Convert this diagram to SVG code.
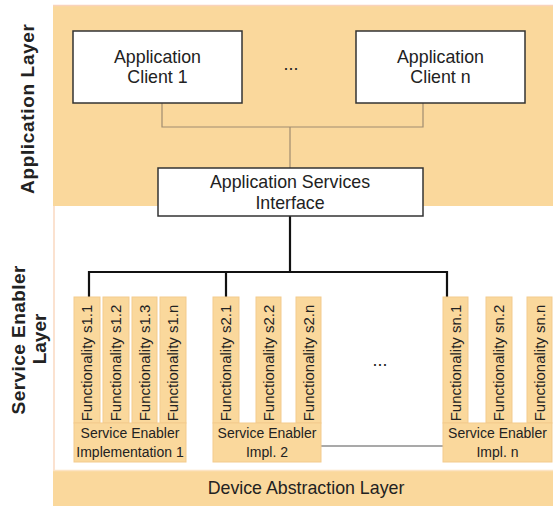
<svg xmlns="http://www.w3.org/2000/svg" width="553" height="506" viewBox="0 0 553 506">
<style>
text{font-family:"Liberation Sans",Arial,sans-serif;fill:#222}
.band{fill:#FAD89C}
.box{fill:#fff;stroke:#333;stroke-width:1.5}
.t17{font-size:17.8px;text-anchor:middle}
.t14{font-size:14px;text-anchor:middle}
.fn{fill:#FAD89C;stroke:#F3CB8E;stroke-width:1}
.fnt{font-size:15px;text-anchor:middle}
.lbl{font-size:19px;font-weight:bold;text-anchor:middle}
.thin{stroke:#A08C70;stroke-width:1.2;fill:none}
.thick{stroke:#111;stroke-width:2.2;fill:none}
</style>
<rect width="553" height="506" fill="#fff"/>
<g id="application-layer">
<rect class="band" x="53" y="5" width="500" height="201"/>
<line x1="53" y1="5.5" x2="553" y2="5.5" stroke="#F9D3BC" stroke-width="1.5"/>
<text class="lbl" transform="translate(34,109) rotate(-90)" textLength="170" lengthAdjust="spacing">Application Layer</text>
</g>
<g id="service-enabler-layer">
<line x1="54" y1="206" x2="54" y2="470" stroke="#FBE2D0" stroke-width="2"/>
<text class="lbl" transform="translate(25,340) rotate(-90)" textLength="149" lengthAdjust="spacing">Service Enabler</text>
<text class="lbl" transform="translate(46,339) rotate(-90)">Layer</text>
</g>
<g id="device-abstraction-layer">
<rect class="band" x="53" y="470" width="500" height="36"/>
<line x1="53" y1="470.5" x2="553" y2="470.5" stroke="#FCE4C4" stroke-width="1.5"/>
<text class="t17" x="306" y="494">Device Abstraction Layer</text>
</g>
<g id="connectors">
<polyline class="thin" points="162,103 162,127 423,127 423,103"/>
<line class="thin" x1="290" y1="127" x2="290" y2="168"/>
<line class="thick" x1="290" y1="216" x2="290" y2="272"/>
<polyline class="thick" points="89,297 89,272 447,272 447,297"/>
<line class="thick" x1="226" y1="272" x2="226" y2="297"/>
<line x1="321" y1="446" x2="443" y2="446" stroke="#555" stroke-width="1.2"/>
</g>
<g id="client-1">
<rect class="box" x="73" y="31" width="169" height="72"/>
<text class="t17" x="157.5" y="63">Application</text>
<text class="t17" x="157.5" y="83">Client 1</text>
</g>
<g id="client-dots"><text class="t17" x="291" y="70">...</text></g>
<g id="client-n">
<rect class="box" x="356" y="31" width="169" height="72"/>
<text class="t17" x="440.5" y="63">Application</text>
<text class="t17" x="440.5" y="83">Client n</text>
</g>
<g id="app-services-interface">
<rect class="box" x="158" y="168" width="265" height="48"/>
<text class="t17" x="290" y="188">Application Services</text>
<text class="t17" x="290" y="209">Interface</text>
</g>
<g id="se-impl-1">
<rect class="fn" x="74" y="297" width="26" height="126"/>
<text class="fnt" transform="translate(92,363) rotate(-90)">Functionality s1.1</text>
<rect class="fn" x="103" y="297" width="26" height="126"/>
<text class="fnt" transform="translate(121,363) rotate(-90)">Functionality s1.2</text>
<rect class="fn" x="132" y="297" width="25" height="126"/>
<text class="fnt" transform="translate(150,363) rotate(-90)">Functionality s1.3</text>
<rect class="fn" x="160" y="297" width="26" height="126"/>
<text class="fnt" transform="translate(178,363) rotate(-90)">Functionality s1.n</text>
<rect class="fn" x="74" y="423" width="112" height="39"/>
<text class="t14" x="130" y="438">Service Enabler</text>
<text class="t14" x="130" y="457">Implementation 1</text>
</g>
<g id="se-impl-2">
<rect class="fn" x="213" y="297" width="26" height="126"/>
<text class="fnt" transform="translate(231,363) rotate(-90)">Functionality s2.1</text>
<rect class="fn" x="256" y="297" width="25" height="126"/>
<text class="fnt" transform="translate(274,363) rotate(-90)">Functionality s2.2</text>
<rect class="fn" x="296" y="297" width="25" height="126"/>
<text class="fnt" transform="translate(314,363) rotate(-90)">Functionality s2.n</text>
<rect class="fn" x="213" y="423" width="108" height="39"/>
<text class="t14" x="267" y="438">Service Enabler</text>
<text class="t14" x="267" y="457">Impl. 2</text>
</g>
<g id="se-dots"><text class="t17" x="380" y="366">...</text></g>
<g id="se-impl-n">
<rect class="fn" x="443" y="297" width="25" height="126"/>
<text class="fnt" transform="translate(461,363) rotate(-90)">Functionality sn.1</text>
<rect class="fn" x="486" y="297" width="26" height="126"/>
<text class="fnt" transform="translate(504,363) rotate(-90)">Functionality sn.2</text>
<rect class="fn" x="527" y="297" width="25" height="126"/>
<text class="fnt" transform="translate(545,363) rotate(-90)">Functionality sn.n</text>
<rect class="fn" x="443" y="423" width="109" height="39"/>
<text class="t14" x="497.5" y="438">Service Enabler</text>
<text class="t14" x="497.5" y="457">Impl. n</text>
</g>
</svg>
